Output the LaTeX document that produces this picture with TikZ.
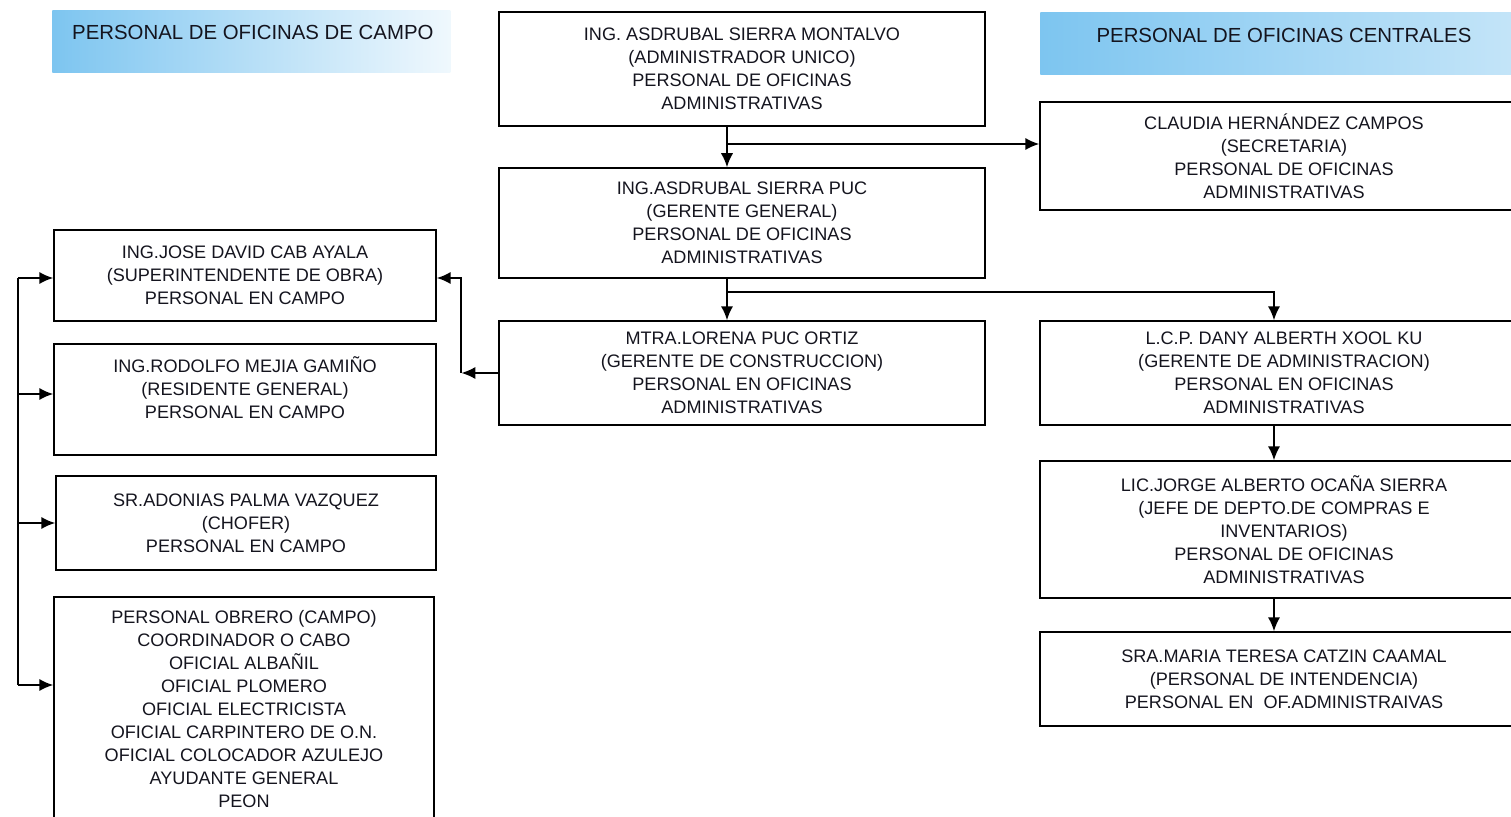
\documentclass[tikz,border=0pt]{standalone}
\usepackage{fontspec}
\setmainfont{Liberation Sans}
\usetikzlibrary{arrows.meta}
\definecolor{azulenc}{RGB}{125,197,240}
\definecolor{tinta}{RGB}{20,20,30}

\begin{document}
\begin{tikzpicture}[>={Latex[length=8pt,width=7pt]}, x=0.02cm, y=-0.02cm,
    caja/.style 2 args={draw, line width=0.8pt, align=center, text=tinta,
      font=\fontsize{10.3}{13.1}\selectfont, minimum width=#1, minimum height=#2},
    enc/.style={inner sep=0pt, anchor=north west},
    titulo/.style={text=tinta, font=\fontsize{11.6}{13}\selectfont},
    linea/.style={line width=1.1pt}]
    \useasboundingbox (0,0) rectangle (1511,817);

    % Draw the headers
    \node[enc, left color=azulenc, right color=azulenc!12, minimum width=7.96cm, minimum height=1.24cm] (hcampo) at (52,10) {};
    \node[titulo, anchor=west] (tcampo) at (66,32) {PERSONAL DE OFICINAS DE CAMPO};
    \node[enc, left color=azulenc, right color=azulenc!45, minimum width=9.6cm, minimum height=1.24cm] (hcentral) at (1040,12) {};
    \node[titulo] (tcentral) at (1284,35) {PERSONAL DE OFICINAS CENTRALES};

    % Draw the central column
    \node[caja={9.72cm}{2.28cm}] (admin) at (742,69) {ING. ASDRUBAL SIERRA MONTALVO\\(ADMINISTRADOR UNICO)\\PERSONAL DE OFICINAS\\ADMINISTRATIVAS};
    \node[caja={9.72cm}{2.2cm}] (gerente) at (742,223) {ING.ASDRUBAL SIERRA PUC\\(GERENTE GENERAL)\\PERSONAL DE OFICINAS\\ADMINISTRATIVAS};
    \node[caja={9.72cm}{2.08cm}] (constru) at (742,373) {MTRA.LORENA PUC ORTIZ\\(GERENTE DE CONSTRUCCION)\\PERSONAL EN OFICINAS\\ADMINISTRATIVAS};

    % Draw the right column
    \node[caja={9.76cm}{2.16cm}] (secre) at (1284,156) {CLAUDIA HERNÁNDEZ CAMPOS\\(SECRETARIA)\\PERSONAL DE OFICINAS\\ADMINISTRATIVAS};
    \node[caja={9.76cm}{2.08cm}] (adminis) at (1284,373) {L.C.P. DANY ALBERTH XOOL KU\\(GERENTE DE ADMINISTRACION)\\PERSONAL EN OFICINAS\\ADMINISTRATIVAS};
    \node[caja={9.76cm}{2.74cm}] (compras) at (1284,529.5) {LIC.JORGE ALBERTO OCAÑA SIERRA\\(JEFE DE DEPTO.DE COMPRAS E\\INVENTARIOS)\\PERSONAL DE OFICINAS\\ADMINISTRATIVAS};
    \node[caja={9.76cm}{1.88cm}] (intend) at (1284,679) {SRA.MARIA TERESA CATZIN CAAMAL\\(PERSONAL DE INTENDENCIA)\\PERSONAL EN~~OF.ADMINISTRAIVAS};

    % Draw the left column
    \node[caja={7.64cm}{1.82cm}] (jose) at (245,275.5) {ING.JOSE DAVID CAB AYALA\\(SUPERINTENDENTE DE OBRA)\\PERSONAL EN CAMPO};
    \node[caja={7.64cm}{2.22cm}] (rodolfo) at (245,399.5) {ING.RODOLFO MEJIA GAMIÑO\\(RESIDENTE GENERAL)\\PERSONAL EN CAMPO\\~};
    \node[caja={7.6cm}{1.88cm}] (adonias) at (246,523) {SR.ADONIAS PALMA VAZQUEZ\\(CHOFER)\\PERSONAL EN CAMPO};
    \node[caja={7.6cm}{4.48cm}] (obrero) at (244,709) {PERSONAL OBRERO (CAMPO)\\COORDINADOR O CABO\\OFICIAL ALBAÑIL\\OFICIAL PLOMERO\\OFICIAL ELECTRICISTA\\OFICIAL CARPINTERO DE O.N.\\OFICIAL COLOCADOR AZULEJO\\AYUDANTE GENERAL\\PEON};

    % Draw the lines of command
    \coordinate (r1) at (727,144);
    \draw[linea,->] ([xshift=-0.3cm]admin.south) -- ([xshift=-0.3cm]gerente.north);
    \draw[linea,->] (r1) -- (r1 -| secre.west);
    \coordinate (r2) at (727,292);
    \draw[linea,->] ([xshift=-0.3cm]gerente.south) -- ([xshift=-0.3cm]constru.north);
    \draw[linea,->] (r2) -| ([xshift=-0.2cm]adminis.north);
    \draw[linea,->] ([xshift=-0.2cm]adminis.south) -- ([xshift=-0.2cm]compras.north);
    \draw[linea,->] ([xshift=-0.2cm]compras.south) -- ([xshift=-0.2cm]intend.north);

    % Draw the field staff lines
    \coordinate (r3) at ([xshift=-0.74cm]constru.west);
    \draw[linea,->] (constru.west) -- (r3);
    \draw[linea,->] (r3) |- ([yshift=-0.05cm]jose.east);
    \coordinate (bus) at (18,0);
    \coordinate (ob) at ([yshift=0.48cm]obrero.west);
    \draw[linea] ([yshift=-0.05cm]bus |- jose.west) -- (bus |- ob);
    \draw[linea,->] ([yshift=-0.05cm]bus |- jose.west) -- ([yshift=-0.05cm]jose.west);
    \draw[linea,->] ([yshift=0.11cm]bus |- rodolfo.west) -- ([yshift=0.11cm]rodolfo.west);
    \draw[linea,->] (bus |- adonias.west) -- (adonias.west);
    \draw[linea,->] (bus |- ob) -- (ob);
\end{tikzpicture}
\end{document}
